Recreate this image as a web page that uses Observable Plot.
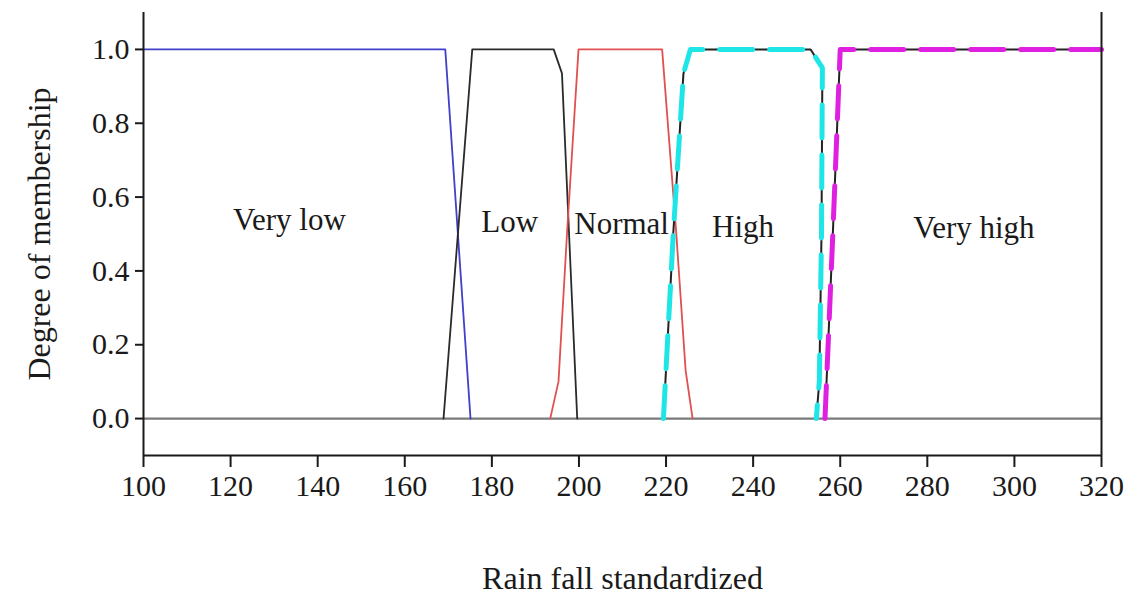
<!DOCTYPE html>
<html>
<head>
<meta charset="utf-8">
<script src="https://cdn.jsdelivr.net/npm/d3@7"></script>
<script src="https://cdn.jsdelivr.net/npm/@observablehq/plot@0.6"></script>
<style>
  html, body { margin: 0; padding: 0; background: #fff; }
  #chart svg { display: block; }
</style>
</head>
<body>
<div id="chart"></div>
<script>
// ---- Data ----
const xTicks = [100, 120, 140, 160, 180, 200, 220, 240, 260, 280, 300, 320];
const yTicks = [0, 0.2, 0.4, 0.6, 0.8, 1.0];

const veryLowX = [100, 169.3, 175.1];
const veryLowY = [1, 1, 0];

const lowX = [168.9, 175.5, 194.2, 196.1, 199.6];
const lowY = [0, 1, 1, 0.935, 0];

const normalX = [193.4, 195.3, 197.3, 199.9, 219.1, 222.3, 224.5, 226.1];
const normalY = [0, 0.10, 0.51, 1, 1, 0.51, 0.13, 0];

const highX = [219.4, 221.7, 224.0, 225.6, 253.2, 255.9, 255.7, 255.2, 254.5];
const highY = [0, 0.51, 0.935, 1, 1, 0.95, 0.5, 0.1, 0];

const veryHighX = [256.5, 258.3, 260.0, 320];
const veryHighY = [0, 0.5, 1, 1];

const labelNames = ["Very low", "Low", "Normal", "High", "Very high"];
const labelX = [133.5, 184.1, 209.8, 237.7, 290.7];
const labelY = [0.537, 0.531, 0.528, 0.518, 0.515];

const xTitle = "Rain fall standardized";
const yTitle = "Degree of membership";

// ---- Build tables ----
const toRows = (xs, ys) => xs.map((x, i) => ({x, y: ys[i]}));
const veryLow = toRows(veryLowX, veryLowY);
const low = toRows(lowX, lowY);
const normal = toRows(normalX, normalY);
const high = toRows(highX, highY);
const veryHigh = toRows(veryHighX, veryHighY);
const labels = labelNames.map((t, i) => ({t, x: labelX[i], y: labelY[i]}));

const FONT = "Liberation Serif, Times New Roman, serif";
const INK = "#1a1a1a";

const chart = Plot.plot({
  width: 1135,
  height: 600,
  marginLeft: 143,
  marginRight: 34,
  marginTop: 12,
  marginBottom: 145,
  style: {fontFamily: FONT, fontSize: "30px", color: INK, background: "#fff"},
  x: {domain: [100, 320]},
  y: {domain: [-0.1, 1.1]},
  marks: [
    // zero baseline
    Plot.ruleY([0], {stroke: "#7a7a7a", strokeWidth: 2.2}),
    // membership functions
    Plot.line(veryLow, {x: "x", y: "y", stroke: "#4040c8", strokeWidth: 1.8}),
    Plot.line(low, {x: "x", y: "y", stroke: "#2a2a2a", strokeWidth: 1.8}),
    Plot.line(normal, {x: "x", y: "y", stroke: "#e05050", strokeWidth: 1.8}),
    Plot.line(high, {x: "x", y: "y", stroke: "#222", strokeWidth: 2}),
    Plot.line(high, {x: "x", y: "y", stroke: "#1ee6e6", strokeWidth: 5, strokeDasharray: "33,17"}),
    Plot.line(veryHigh, {x: "x", y: "y", stroke: "#222", strokeWidth: 2}),
    Plot.line(veryHigh, {x: "x", y: "y", stroke: "#e020e0", strokeWidth: 5, strokeDasharray: "33,17"}),
    // category labels
    Plot.text(labels, {x: "x", y: "y", text: "t", fontSize: 31, fill: INK, textAnchor: "middle", lineAnchor: "middle"}),
    // frame (left, right, bottom)
    Plot.ruleX([100, 320], {y1: -0.1, y2: 1.1, stroke: INK, strokeWidth: 2}),
    Plot.ruleY([-0.1], {x1: 100, x2: 320, stroke: INK, strokeWidth: 2}),
    // axes
    Plot.axisX({ticks: xTicks, tickSize: 12, tickPadding: 7, fontSize: 30, strokeWidth: 2, label: null, tickFormat: d3.format("d")}),
    Plot.axisY({ticks: yTicks, tickSize: 8, tickPadding: 6, fontSize: 30, strokeWidth: 2, label: null, tickFormat: d3.format(".1f")}),
    // axis titles
    Plot.text([xTitle], {frameAnchor: "bottom", dy: 123, text: d => d, fontSize: 32, fill: INK, textAnchor: "middle", lineAnchor: "middle"}),
    Plot.text([yTitle], {frameAnchor: "left", dx: -104, rotate: -90, text: d => d, fontSize: 32, fill: INK, textAnchor: "middle", lineAnchor: "middle"})
  ]
});
document.getElementById("chart").appendChild(chart);
</script>
</body>
</html>
